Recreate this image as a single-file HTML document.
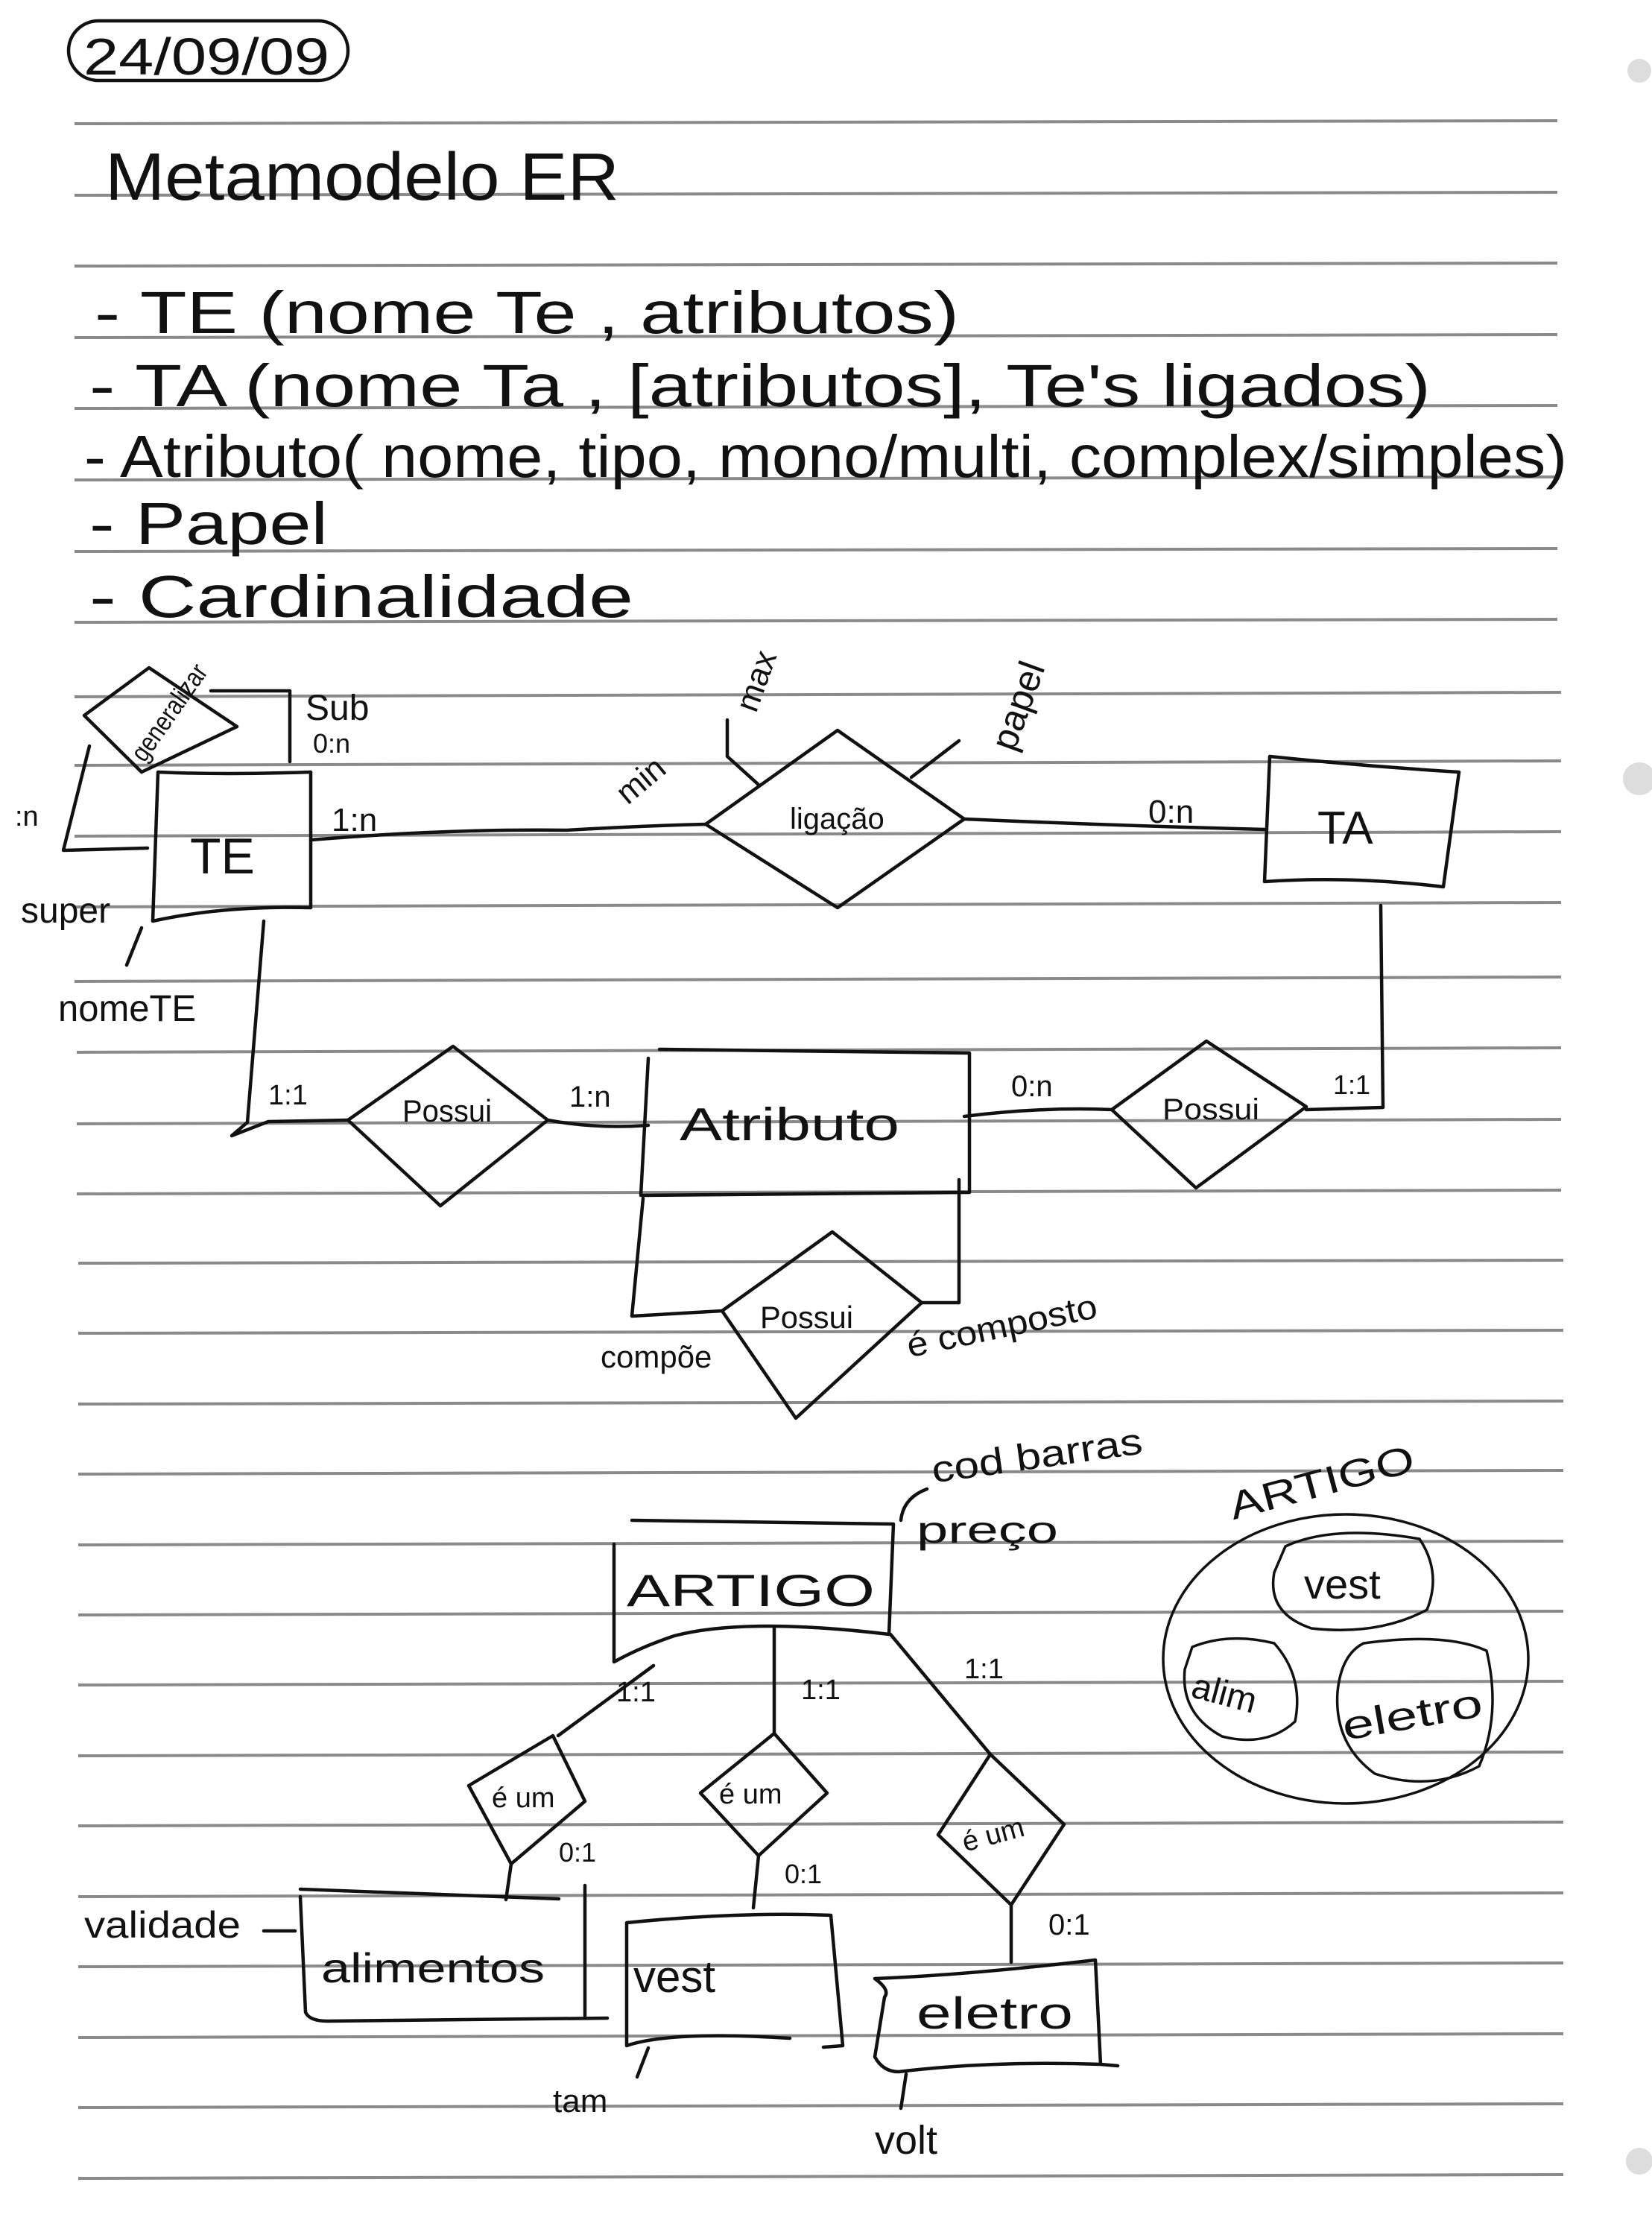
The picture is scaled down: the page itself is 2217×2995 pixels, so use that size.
<!DOCTYPE html>
<html><head><meta charset="utf-8"><style>
html,body{margin:0;padding:0;background:#fff;}
svg{display:block;}
text{font-family:"Liberation Sans Narrow","Liberation Sans",sans-serif;fill:#111;}
</style></head><body>
<svg width="2217" height="2995" viewBox="0 0 2217 2995" xmlns="http://www.w3.org/2000/svg">
<rect width="2217" height="2995" fill="#fff"/>
<g stroke="#8a8a8a" stroke-width="4">
<line x1="100" y1="166" x2="2090" y2="162"/>
<line x1="100" y1="262" x2="2090" y2="258"/>
<line x1="100" y1="357" x2="2090" y2="353"/>
<line x1="100" y1="453" x2="2090" y2="449"/>
<line x1="100" y1="548" x2="2090" y2="544"/>
<line x1="100" y1="644" x2="2090" y2="640"/>
<line x1="100" y1="740" x2="2090" y2="736"/>
<line x1="100" y1="835" x2="2090" y2="831"/>
<line x1="100" y1="935" x2="2095" y2="929"/>
<line x1="100" y1="1027" x2="2095" y2="1021"/>
<line x1="100" y1="1122" x2="2095" y2="1116"/>
<line x1="100" y1="1217" x2="2095" y2="1211"/>
<line x1="100" y1="1317" x2="2095" y2="1311"/>
<line x1="103" y1="1412" x2="2095" y2="1406"/>
<line x1="103" y1="1508" x2="2095" y2="1502"/>
<line x1="103" y1="1602" x2="2095" y2="1597"/>
<line x1="105" y1="1695" x2="2098" y2="1691"/>
<line x1="105" y1="1789" x2="2098" y2="1785"/>
<line x1="105" y1="1884" x2="2098" y2="1880"/>
<line x1="105" y1="1978" x2="2098" y2="1973"/>
<line x1="105" y1="2073" x2="2098" y2="2068"/>
<line x1="105" y1="2167" x2="2098" y2="2162"/>
<line x1="105" y1="2261" x2="2098" y2="2256"/>
<line x1="105" y1="2356" x2="2098" y2="2351"/>
<line x1="105" y1="2450" x2="2098" y2="2445"/>
<line x1="105" y1="2545" x2="2098" y2="2540"/>
<line x1="105" y1="2639" x2="2098" y2="2634"/>
<line x1="105" y1="2734" x2="2098" y2="2729"/>
<line x1="105" y1="2828" x2="2098" y2="2823"/>
<line x1="105" y1="2923" x2="2098" y2="2918"/>
</g>
<g fill="#ddd"><circle cx="2200" cy="95" r="16"/><circle cx="2200" cy="1045" r="22"/><circle cx="2200" cy="2900" r="18"/></g>

<g stroke="#111" stroke-width="4.5" fill="none" stroke-linejoin="round" stroke-linecap="round">
<!-- date oval -->
<rect x="92" y="28" width="375" height="80" rx="40"/>
<!-- generalizar -->
<polygon points="200,896 318,975 190,1036 113,960"/>
<polyline points="283,927 389,927 389,1022"/>
<polyline points="120,1001 85,1141 198,1138"/>
<!-- TE box -->
<path d="M212,1036 Q300,1040 417,1036 L417,1218 Q300,1215 205,1236 Z"/>
<!-- TE to ligação -->
<path d="M417,1127 Q600,1112 760,1114 Q860,1108 947,1106"/>
<polyline points="976,966 976,1015 1018,1053"/>
<polygon points="1124,980 1294,1099 1124,1218 947,1106"/>
<line x1="1223" y1="1043" x2="1287" y2="994"/>
<path d="M1294,1099 Q1500,1108 1697,1113"/>
<!-- TA -->
<path d="M1704,1015 Q1830,1028 1958,1036 L1937,1190 Q1810,1175 1697,1183 Z"/>
<polyline points="1853,1215 1856,1486 1753,1489"/>
<!-- possui right -->
<polygon points="1619,1397 1753,1485 1605,1594 1492,1489"/>
<path d="M1294,1498 Q1400,1485 1492,1489"/>
<!-- Atributo box -->
<path d="M885,1408 L1301,1413 L1301,1600 L860,1604 L870,1420"/>
<!-- TE side -> left possui -->
<polyline points="354,1236 332,1506 311,1524 360,1505 467,1503"/>
<polygon points="608,1404 735,1503 591,1618 467,1503"/>
<path d="M735,1503 Q800,1515 870,1510"/>
<!-- bottom loop -->
<polyline points="863,1608 848,1766 969,1759"/>
<polyline points="1287,1583 1287,1748 1237,1748"/>
<polygon points="1117,1653 1237,1748 1068,1903 969,1759"/>
<!-- attribute lines -->
<line x1="190" y1="1245" x2="170" y2="1295"/>
<path d="M1244,1998 Q1212,2010 1209,2040"/>
<!-- ARTIGO -->
<path d="M848,2040 L1199,2045 L1193,2193 Q1000,2170 905,2195 Q860,2210 824,2230 L824,2072"/>
<polyline points="877,2235 749,2329"/>
<line x1="1039" y1="2183" x2="1039" y2="2326"/>
<line x1="1195" y1="2193" x2="1329" y2="2354"/>
<polygon points="742,2329 785,2417 686,2501 629,2396"/>
<polygon points="1039,2326 1110,2406 1018,2490 940,2406"/>
<polygon points="1329,2354 1428,2448 1357,2556 1259,2462"/>
<line x1="686" y1="2501" x2="679" y2="2549"/>
<line x1="1018" y1="2490" x2="1011" y2="2560"/>
<line x1="1357" y1="2556" x2="1357" y2="2633"/>
<!-- alimentos -->
<polyline points="403,2535 750,2548"/>
<polyline points="785,2530 785,2705"/>
<path d="M403,2545 L410,2700 Q415,2712 440,2712 L815,2708"/>
<!-- vest -->
<path d="M841,2580 Q990,2565 1115,2570 L1131,2745 L1105,2747 M841,2580 L841,2745 Q900,2725 1060,2735"/>
<!-- eletro -->
<path d="M1174,2655 Q1300,2650 1470,2630 L1477,2770 L1500,2772 M1174,2655 Q1195,2670 1187,2680 L1174,2760 Q1185,2780 1206,2780 Q1330,2765 1477,2770"/>
<line x1="870" y1="2748" x2="855" y2="2787"/>
<line x1="1216" y1="2783" x2="1209" y2="2829"/>
<line x1="354" y1="2591" x2="396" y2="2591"/>
<!-- venn -->
<ellipse cx="1806" cy="2226" rx="245" ry="194" stroke-width="3.5"/>
<path d="M1725,2075 Q1790,2045 1905,2065 Q1935,2110 1915,2160 Q1850,2195 1760,2185 Q1700,2165 1710,2110 Z" stroke-width="3.5"/>
<path d="M1600,2210 Q1650,2190 1710,2205 Q1750,2250 1738,2310 Q1700,2345 1640,2330 Q1584,2300 1590,2240 Z" stroke-width="3.5"/>
<path d="M1830,2205 Q1940,2190 1995,2215 Q2015,2300 1985,2370 Q1920,2405 1845,2380 Q1790,2340 1795,2270 Q1800,2220 1830,2205 Z" stroke-width="3.5"/>
</g>

<g font-size="70">
<text x="112" y="100" textLength="330" lengthAdjust="spacingAndGlyphs">24/09/09</text>
<text x="141" y="268" font-size="90" textLength="690" lengthAdjust="spacingAndGlyphs">Metamodelo  ER</text>
<text x="127" y="447" font-size="80" textLength="1160" lengthAdjust="spacingAndGlyphs">- TE   (nome Te , atributos)</text>
<text x="120" y="545" font-size="80" textLength="1800" lengthAdjust="spacingAndGlyphs">- TA   (nome Ta , [atributos], Te's  ligados)</text>
<text x="113" y="640" font-size="80" textLength="1990" lengthAdjust="spacingAndGlyphs">- Atributo( nome, tipo, mono/multi, complex/simples)</text>
<text x="120" y="730" font-size="80" textLength="320" lengthAdjust="spacingAndGlyphs">- Papel</text>
<text x="120" y="828" font-size="80" textLength="730" lengthAdjust="spacingAndGlyphs">- Cardinalidade</text>
</g>
<g font-size="44">
<text x="150" y="990" font-size="36" transform="rotate(-55 205 965)" textLength="150" lengthAdjust="spacingAndGlyphs">generalizar</text>
<text x="410" y="966" font-size="48">Sub</text>
<text x="420" y="1010" font-size="36">0:n</text>
<text x="20" y="1108" font-size="38">:n</text>
<text x="28" y="1238" font-size="48">super</text>
<text x="78" y="1370" font-size="50" textLength="185" lengthAdjust="spacingAndGlyphs">nomeTE</text>
<text x="255" y="1172" font-size="68">TE</text>
<text x="445" y="1115">1:n</text>
<text x="820" y="1060" transform="rotate(-40 860 1040)">min</text>
<text x="960" y="940" transform="rotate(-70 1000 910)">max</text>
<text x="1300" y="997" font-size="50" transform="rotate(-70 1340 960)">papel</text>
<text x="1060" y="1112" font-size="40">ligação</text>
<text x="1541" y="1104">0:n</text>
<text x="1768" y="1132" font-size="62">TA</text>
<text x="360" y="1482" font-size="38">1:1</text>
<text x="540" y="1505" font-size="42" textLength="120" lengthAdjust="spacingAndGlyphs">Possui</text>
<text x="764" y="1485" font-size="40">1:n</text>
<text x="912" y="1530" font-size="62" textLength="295" lengthAdjust="spacingAndGlyphs">Atributo</text>
<text x="1357" y="1471" font-size="40">0:n</text>
<text x="1560" y="1502" font-size="40" textLength="130" lengthAdjust="spacingAndGlyphs">Possui</text>
<text x="1789" y="1468" font-size="36">1:1</text>
<text x="1020" y="1782" font-size="42" textLength="125" lengthAdjust="spacingAndGlyphs">Possui</text>
<text x="806" y="1835" font-size="42">compõe</text>
<text x="1216" y="1822" font-size="46" transform="rotate(-12 1216 1800)" textLength="260" lengthAdjust="spacingAndGlyphs">é composto</text>
<text x="1250" y="1990" font-size="50" transform="rotate(-8 1250 1970)" textLength="285" lengthAdjust="spacingAndGlyphs">cod barras</text>
<text x="1230" y="2070" font-size="50" textLength="190" lengthAdjust="spacingAndGlyphs">preço</text>
<text x="841" y="2155" font-size="60" textLength="333" lengthAdjust="spacingAndGlyphs">ARTIGO</text>
<text x="827" y="2283" font-size="38">1:1</text>
<text x="1075" y="2280" font-size="38">1:1</text>
<text x="1294" y="2252" font-size="38">1:1</text>
<text x="660" y="2425" font-size="38">é um</text>
<text x="965" y="2420" font-size="38">é um</text>
<text x="1290" y="2475" font-size="38" transform="rotate(-15 1330 2460)">é um</text>
<text x="750" y="2498" font-size="36">0:1</text>
<text x="1053" y="2527" font-size="36">0:1</text>
<text x="1407" y="2596" font-size="40">0:1</text>
<text x="113" y="2600" font-size="50" textLength="210" lengthAdjust="spacingAndGlyphs">validade</text>
<text x="431" y="2660" font-size="56" textLength="300" lengthAdjust="spacingAndGlyphs">alimentos</text>
<text x="850" y="2673" font-size="60">vest</text>
<text x="1230" y="2722" font-size="60" textLength="210" lengthAdjust="spacingAndGlyphs">eletro</text>
<text x="742" y="2834" font-size="44">tam</text>
<text x="1174" y="2890" font-size="54">volt</text>
<text x="1650" y="2040" font-size="52" transform="rotate(-15 1650 2020)" textLength="255" lengthAdjust="spacingAndGlyphs">ARTIGO</text>
<text x="1750" y="2145" font-size="56">vest</text>
<text x="1600" y="2290" font-size="48" transform="rotate(15 1650 2270)">alim</text>
<text x="1800" y="2320" font-size="54" transform="rotate(-10 1890 2300)" textLength="190" lengthAdjust="spacingAndGlyphs">eletro</text>
</g>
</svg>
</body></html>
